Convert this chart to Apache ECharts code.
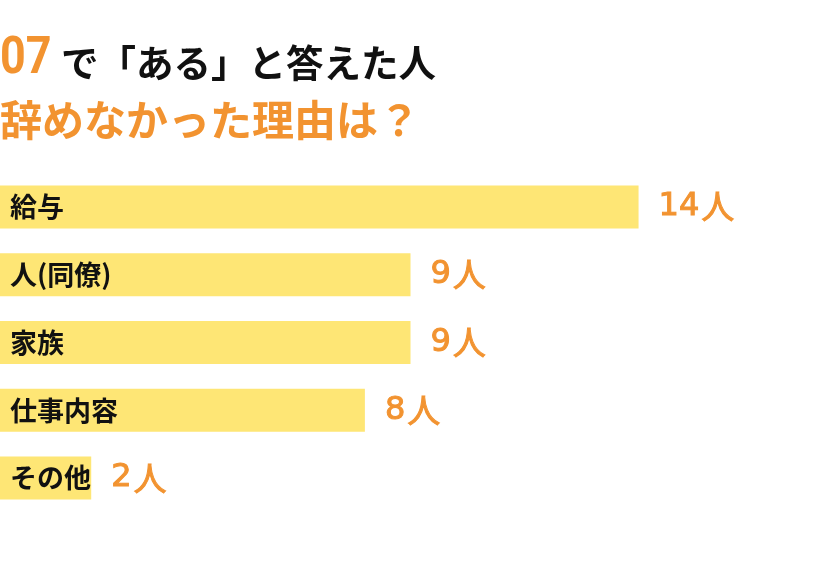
<!DOCTYPE html>
<html><head><meta charset="utf-8">
<script src="https://cdn.jsdelivr.net/npm/echarts@6/dist/echarts.min.js"></script>
<style>html,body{margin:0;padding:0;background:#fff}#c{width:840px;height:568px}</style>
</head><body><div id="c"></div>
<script>
const categories = ['給与', '人(同僚)', '家族', '仕事内容', 'その他'];
const values = [14, 9, 9, 8, 2];
const unit = '人';
const titleNum = '07';
const titleLine1 = 'で「ある」と答えた人';
const titleLine2 = '辞めなかった理由は？';

const ORANGE = '#F29330';
const YELLOW = '#FEE675';
const JP = '"Noto Sans CJK JP", "Noto Sans", sans-serif';

const chart = echarts.init(document.getElementById('c'), null, {renderer: 'canvas'});
chart.setOption({
  backgroundColor: '#fff',
  animation: false,
  graphic: [
    {type: 'text', x: 0, y: 60, scaleX: 0.88,
     style: {text: titleNum, fontFamily: '"Roboto", "Liberation Sans", sans-serif', fontWeight: 'bold', fontSize: 51, fill: ORANGE, textVerticalAlign: 'middle'}},
    {type: 'text', x: 61, y: 63,
     style: {text: titleLine1, fontFamily: JP, fontWeight: 'bold', fontSize: 37.5, fill: '#111', textVerticalAlign: 'middle'}},
    {type: 'text', x: 0, y: 120,
     style: {text: titleLine2, fontFamily: JP, fontWeight: 'bold', fontSize: 42, fill: ORANGE, textVerticalAlign: 'middle'}}
  ],
  grid: {left: 0, right: 19, top: 173, bottom: 56, containLabel: false},
  xAxis: {type: 'value', min: 0, max: 18, show: false},
  yAxis: {
    type: 'category', data: categories, inverse: true,
    axisLine: {show: false}, axisTick: {show: false}, splitLine: {show: false},
    axisLabel: {inside: true, margin: 10, color: '#111', fontFamily: JP, fontWeight: 'bold', fontSize: 27, align: 'left'},
    z: 5
  },
  series: [{
    type: 'bar', data: values, barWidth: 43,
    itemStyle: {color: YELLOW},
    label: {show: true, position: 'right', distance: 20, formatter: '{n|{c}}{u|' + unit + '}',
      rich: {
        n: {fontFamily: '"DejaVu Sans", sans-serif', fontSize: 32, color: ORANGE, padding: [0, 2, 0, 0], textBorderColor: ORANGE, textBorderWidth: 1},
        u: {fontFamily: JP, fontSize: 33, color: ORANGE, fontWeight: 'normal', textBorderColor: ORANGE, textBorderWidth: 1}
      }}
  }]
});
</script></body></html>
